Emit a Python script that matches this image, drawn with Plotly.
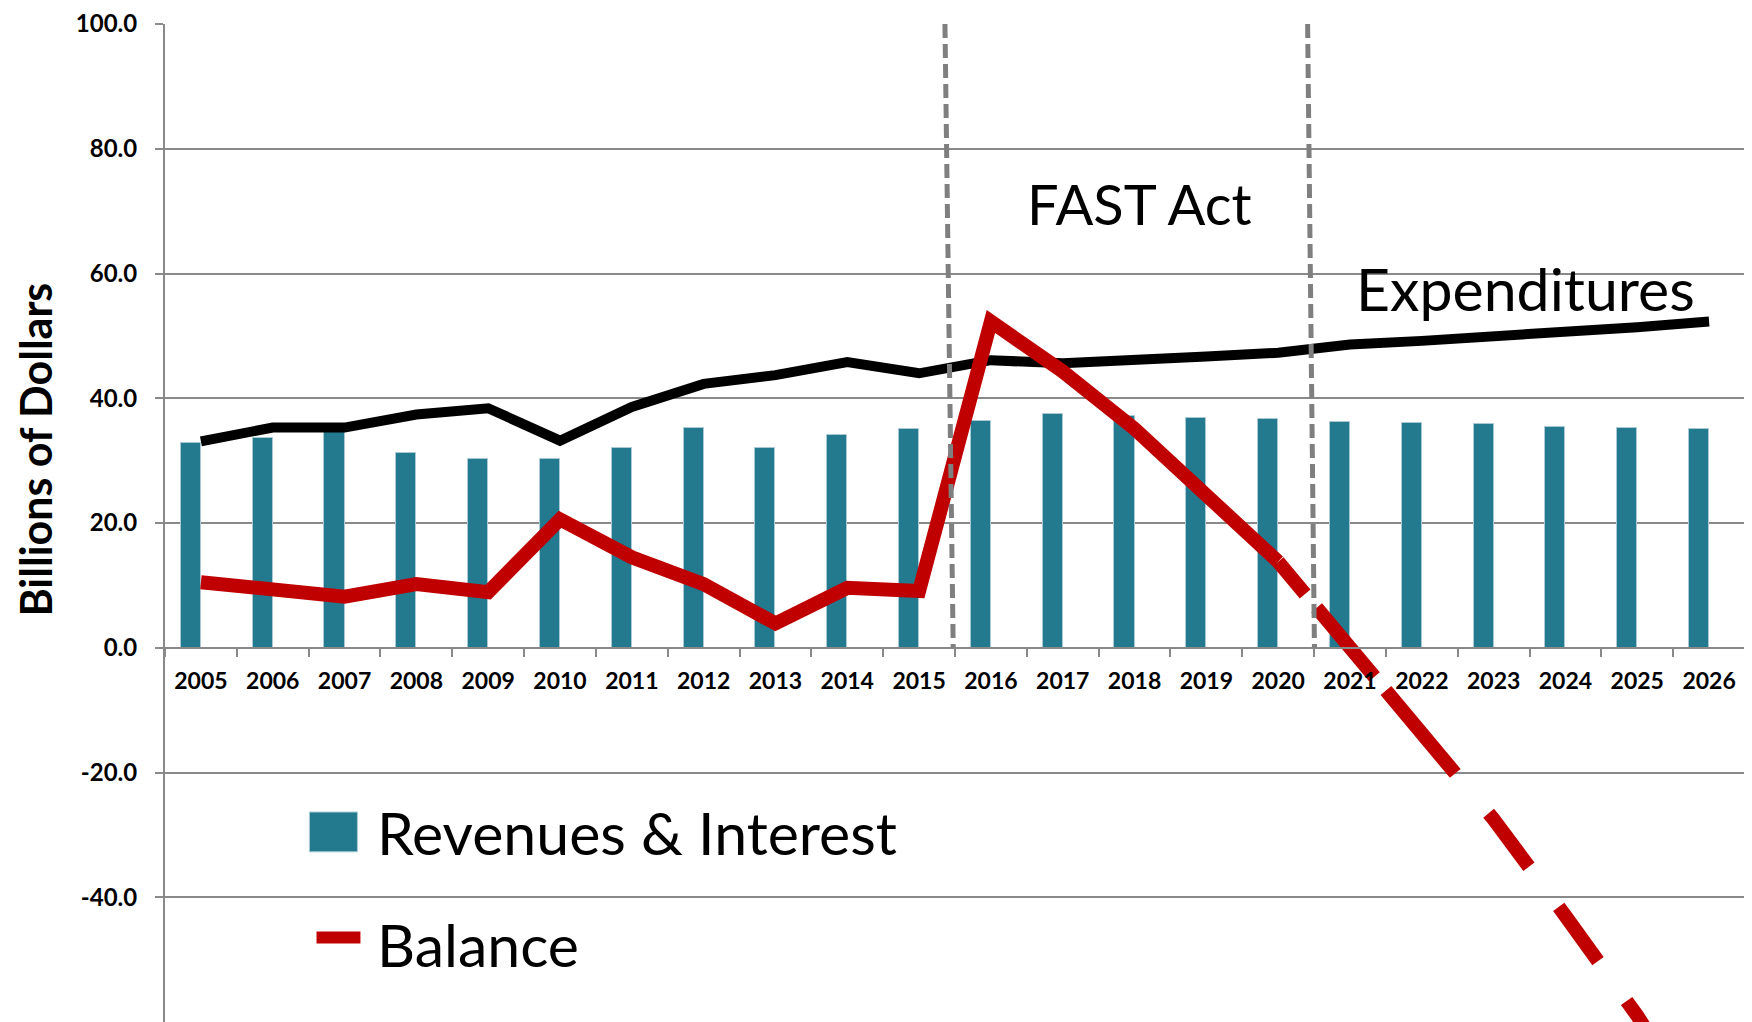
import plotly.graph_objects as go

# ---------------- data ----------------
years = list(range(2005, 2027))
year_labels = [str(y) for y in years]

revenues_interest = [32.9, 33.7, 35.0, 31.3, 30.3, 30.2, 32.0, 35.3, 32.0, 34.1, 35.1,
                     36.4, 37.4, 37.1, 36.8, 36.7, 36.2, 36.0, 35.8, 35.4, 35.2, 35.0]
expenditures = [33.1, 35.3, 35.3, 37.4, 38.4, 33.2, 38.6, 42.3, 43.7, 45.8, 44.0,
                46.1, 45.6, 46.0, 46.7, 47.3, 48.6, 49.2, 49.8, 50.5, 51.4, 52.3]
balance = [10.5, 9.2, 8.2, 10.2, 8.9, 20.6, 14.5, 10.2, 3.9, 9.6, 9.1,
           52.3, 44.3, 35.1, 24.3, 13.8, 0.0, -13.2, -27.5, -43.0, -59.0, -77.0]
last_actual_year = 2020

y_tick_values = [-40, -20, 0, 20, 40, 60, 80, 100]
y_tick_labels = ["-40.0", "-20.0", "0.0", "20.0", "40.0", "60.0", "80.0", "100.0"]

# FAST Act period boundaries (category edges)
fast_act_start = 2015.5
fast_act_end = 2020.5

# ---------------- styles ----------------
TEAL = "#237A8E"
RED = "#C00000"
GRID = "#898989"
FONT = "Lato"

split = years.index(last_actual_year)
bal_years_actual = years[: split + 1]
bal_actual = balance[: split + 1]
bal_years_proj = years[split:]
bal_proj = balance[split:]

fig = go.Figure()

fig.add_trace(go.Bar(
    x=years, y=revenues_interest, name="Revenues & Interest",
    marker=dict(color=TEAL, line=dict(color="#a9cad4", width=1)),
    offset=-0.28, width=0.28, showlegend=False,
))
fig.add_trace(go.Scatter(
    x=years, y=expenditures, name="Expenditures", mode="lines",
    line=dict(color="black", width=10), showlegend=False,
))
fig.add_trace(go.Scatter(
    x=bal_years_actual, y=bal_actual, name="Balance", mode="lines",
    line=dict(color=RED, width=14), showlegend=False,
))
fig.add_trace(go.Scatter(
    x=bal_years_proj, y=bal_proj, name="Balance (projected)", mode="lines",
    line=dict(color=RED, width=14,
              dash="42px,18px,90px,18px,108px,52px,67px,50px,67px,49px,300px,50px"),
    showlegend=False,
))

# vertical dashed period lines
for x_top, x_bot in [(fast_act_start - 0.14, fast_act_start - 0.025),
                     (fast_act_end - 0.09, fast_act_end + 0.005)]:
    fig.add_shape(type="line", xref="x", yref="y", x0=x_top, y0=100, x1=x_bot, y1=0,
                  line=dict(color="#7f7f7f", width=5, dash="14px,6px"), layer="above")

annotations = [
    dict(text="FAST Act", x=2018.07, y=71.3, xref="x", yref="y", showarrow=False,
         font=dict(family=FONT, size=56, color="black")),
    dict(text="Expenditures", x=2023.45, y=57.6, xref="x", yref="y", showarrow=False,
         font=dict(family=FONT, size=59, color="black")),
    dict(text="Billions of Dollars", x=-0.082, y=0.574, xref="paper", yref="paper",
         textangle=-90, showarrow=False, xanchor="center", yanchor="middle",
         font=dict(family=FONT, size=43, color="black", weight="bold")),
    dict(text="Revenues & Interest", x=0.1326, y=0.190, xref="paper", yref="paper",
         showarrow=False, xanchor="left", yanchor="middle",
         font=dict(family=FONT, size=59, color="black")),
    dict(text="Balance", x=0.1326, y=0.078, xref="paper", yref="paper",
         showarrow=False, xanchor="left", yanchor="middle",
         font=dict(family=FONT, size=59, color="black")),
]

# manual legend symbols
fig.add_shape(type="rect", xref="paper", yref="paper", x0=0.0914, x1=0.1218,
              y0=0.1705, y1=0.2104, fillcolor=TEAL, line=dict(color="#a9cad4", width=1))
fig.add_shape(type="line", xref="paper", yref="paper", x0=0.0959, x1=0.1237,
              y0=0.0847, y1=0.0847, line=dict(color=RED, width=12))

# page body has an 8px margin: size the figure so the plot lands where the reference has it
fig.update_layout(
    width=1744, height=1014,
    margin=dict(l=157, r=7, t=11, b=0),
    paper_bgcolor="white", plot_bgcolor="white",
    showlegend=False,
    bargap=0,
    annotations=annotations,
    xaxis=dict(
        range=[2004.5, 2026.5],
        tickmode="array", tickvals=years, ticktext=year_labels,
        ticks="", showgrid=False, zeroline=False,
        showline=True, linecolor=GRID, linewidth=2,
        anchor="free", position=60 / 160,
        tickfont=dict(family=FONT, size=23, color="black", weight="bold"),
        ticklabelstandoff=13, ticklabeloverflow="allow",
        minor=dict(ticks="outside", ticklen=8, tickcolor=GRID, tickwidth=2,
                   tick0=2004.5, dtick=1, showgrid=False),
    ),
    yaxis=dict(
        range=[-60, 100],
        tickmode="array", tickvals=y_tick_values, ticktext=y_tick_labels,
        ticks="outside", ticklen=8, tickcolor=GRID, tickwidth=2,
        showgrid=True, gridcolor=GRID, gridwidth=2,
        zeroline=False, showline=True, linecolor=GRID, linewidth=2,
        tickfont=dict(family=FONT, size=24, color="black", weight="bold"),
        ticklabelstandoff=13, ticklabeloverflow="allow",
    ),
)

fig.write_html("out.html")
